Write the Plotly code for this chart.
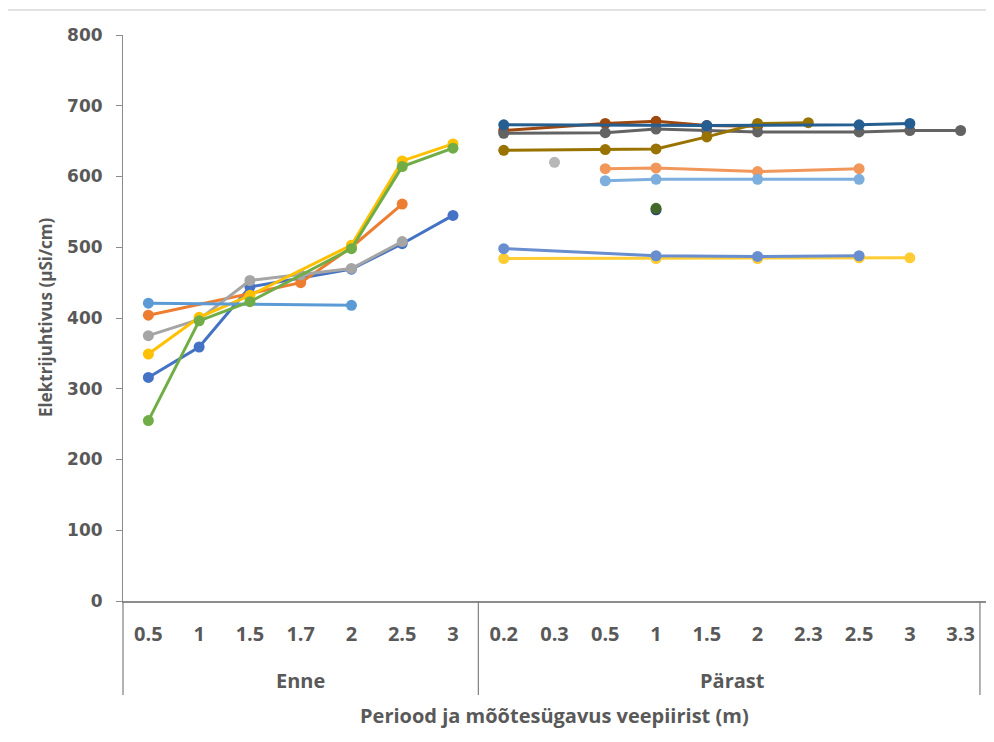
import plotly.graph_objects as go

# ---- data ----
group_names = ["Enne", "Pärast"]
groups = ["Enne"] * 7 + ["Pärast"] * 10
depths = ["0.5", "1", "1.5", "1.7", "2", "2.5", "3",
          "0.2", "0.3", "0.5", "1", "1.5", "2", "2.3", "2.5", "3", "3.3"]
y_ticks = [0, 100, 200, 300, 400, 500, 600, 700, 800]

N = None
# Enne (0.5,1,1.5,1.7,2,2.5,3) then Pärast (0.2,0.3,0.5,1,1.5,2,2.3,2.5,3,3.3)
s1 = [316, 359, 444, N, 469, 505, 545] + [N] * 10
s2 = [404, N, N, 450, 500, 561, N] + [N] * 10
s3 = [375, 398, 453, 461, 470, 508, N] + [N] * 10
s4 = [349, 401, 432, N, 503, 622, 646] + [N] * 10
s5 = [421, N, N, N, 418, N, N] + [N] * 10
s6 = [255, 396, 423, N, 498, 614, 640] + [N] * 10
s7 = [N] * 7 + [N, N, N, 553, N, N, N, N, N, N]
s8 = [N] * 7 + [665, N, 675, 678, 672, 671, N, N, N, N]
s9 = [N] * 7 + [661, N, 662, 667, 665, 663, N, 663, 665, 665]
s10 = [N] * 7 + [637, N, 638, 639, 656, 675, 676, N, N, N]
s11 = [N] * 7 + [673, N, N, N, 672, N, N, 673, 675, N]
s12 = [N] * 7 + [N, N, N, 555, N, N, N, N, N, N]
s16 = [N] * 7 + [484, N, N, 484, N, 484, N, 485, 485, N]
s13 = [N] * 7 + [498, N, N, 488, N, 487, N, 488, N, N]
s14 = [N] * 7 + [N, N, 611, 612, N, 607, N, 611, N, N]
s15 = [N] * 7 + [N, 620, N, N, N, N, N, N, N, N]
s17 = [N] * 7 + [N, N, 594, 596, N, 596, N, 596, N, N]

series = [
    (s1, "#4472C4"), (s2, "#ED7D31"), (s3, "#A5A5A5"), (s4, "#FFC000"),
    (s5, "#5B9BD5"), (s6, "#70AD47"), (s7, "#264478"), (s8, "#9E480E"),
    (s9, "#636363"), (s10, "#997300"), (s11, "#255E91"), (s12, "#43682B"),
    (s16, "#FFCD33"), (s13, "#698ED0"), (s14, "#F1975A"), (s15, "#B7B7B7"),
    (s17, "#7CAFDD"),
]

# unique category keys, displayed with depth labels only
keys = [f"{g} {d}" for g, d in zip(groups, depths)]

fig = go.Figure()
for vals, col in series:
    fig.add_trace(go.Scatter(
        x=keys, y=vals, mode="lines+markers",
        connectgaps=True,
        line=dict(color=col, width=3),
        marker=dict(color=col, size=11),
        showlegend=False, hoverinfo="skip",
    ))

txt = "#595959"
axcol = "#8c8c8c"

n_enne = groups.count("Enne")
n_all = len(groups)
group_centres = [(n_enne - 1) / 2, (n_enne + n_all - 1) / 2]
divider_fracs = [0.0, n_enne / n_all, 0.993]

PW, PH = 863, 566  # plot area size in px
y_grp = (601 - 680) / PH
y_div = (601 - 695) / PH

shapes = [dict(type="rect", xref="paper", yref="paper",
               x0=(7 - 123) / PW, x1=1.05, y0=-0.35, y1=(601 - 10) / PH,
               line=dict(color="#d9d9d9", width=1.5), fillcolor="rgba(0,0,0,0)",
               layer="below")]
for f in divider_fracs:
    shapes.append(dict(type="line", xref="paper", yref="paper", x0=f, x1=f, y0=0, y1=y_div,
                       line=dict(color="#7f7f7f", width=1.2)))

annotations = []
for name, c in zip(group_names, group_centres):
    annotations.append(dict(x=c, y=y_grp, xref="x", yref="paper", text=f"<b>{name}</b>",
                            xanchor="center", yanchor="middle", showarrow=False,
                            font=dict(family="Open Sans", size=20, color=txt)))
annotations.append(dict(x=0.5, y=(601 - 715) / PH, xref="paper", yref="paper",
                        xanchor="center", yanchor="middle",
                        text="<b>Periood ja mõõtesügavus veepiirist (m)</b>", showarrow=False,
                        font=dict(family="Open Sans", size=20, color=txt)))
annotations.append(dict(x=(45 - 123) / PW, y=0.5, xref="paper", yref="paper",
                        xanchor="center", yanchor="middle",
                        text="<b>Elektrijuhtivus (µSi/cm)</b>", showarrow=False, textangle=-90,
                        font=dict(family="Open Sans", size=17, color=txt)))

fig.update_layout(
    width=978, height=720,
    margin=dict(l=115, r=0, t=27, b=127, autoexpand=False),
    paper_bgcolor="white", plot_bgcolor="white",
    font=dict(family="Open Sans", color=txt),
    showlegend=False,
    xaxis=dict(
        type="category", categoryorder="array", categoryarray=keys,
        tickmode="array", tickvals=keys, ticktext=depths,
        range=[-0.5, n_all - 0.5],
        showline=True, linecolor=axcol, linewidth=1.5,
        showgrid=False, zeroline=False,
        ticks="outside", ticklen=14, tickcolor="rgba(0,0,0,0)",
        tickfont=dict(family="Open Sans", size=20, color=txt, weight="bold"),
    ),
    yaxis=dict(
        range=[0, 800], tickmode="array", tickvals=y_ticks,
        showline=True, linecolor=axcol, linewidth=1,
        showgrid=False, zeroline=False,
        ticks="outside", ticklen=6, tickcolor=axcol,
        ticklabelstandoff=10,
        tickfont=dict(family="DejaVu Sans", size=17, color=txt, weight="bold"),
    ),
    shapes=shapes,
    annotations=annotations,
)

fig.write_html("out.html")
